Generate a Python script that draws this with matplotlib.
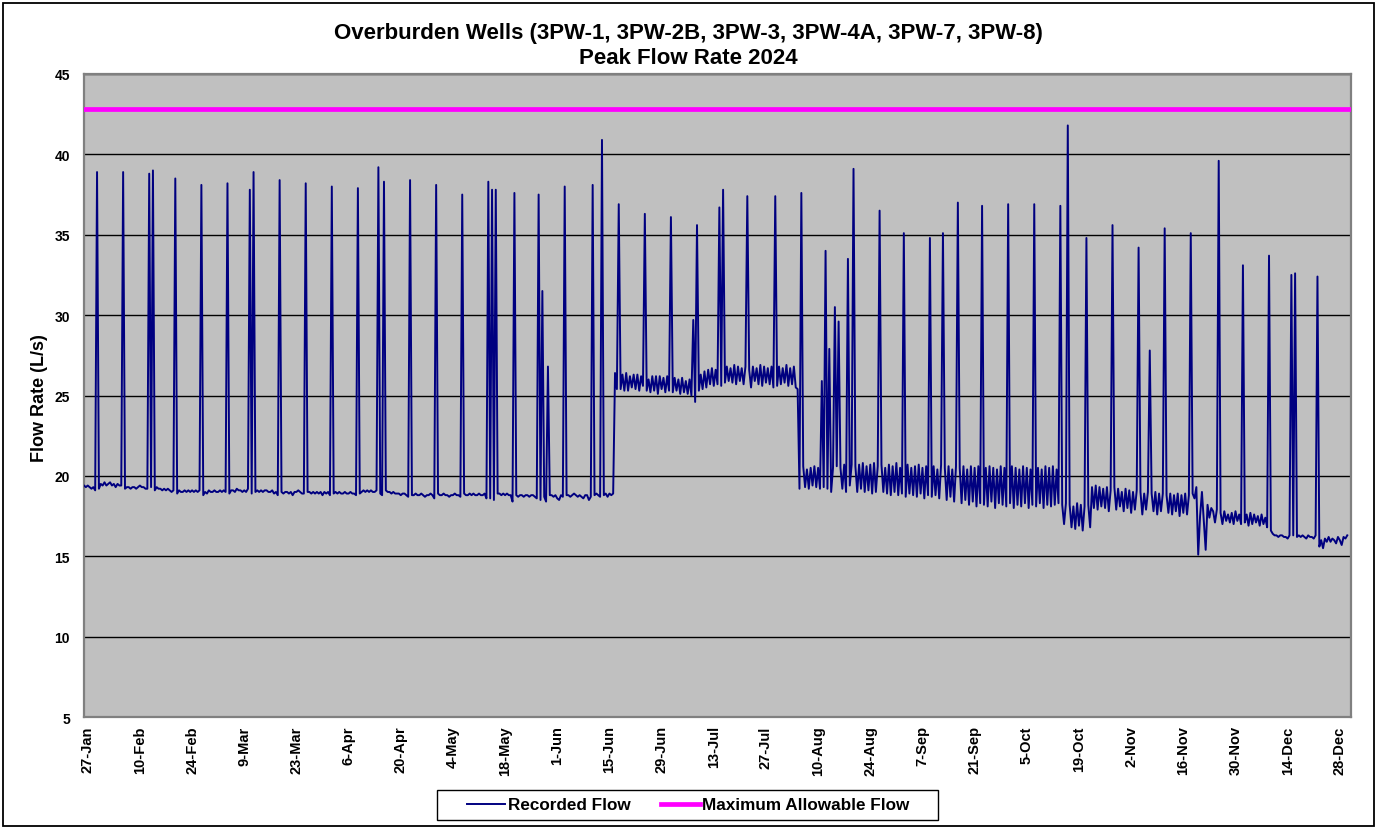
import datetime as dt
import numpy as np
import matplotlib
matplotlib.use("Agg")
import matplotlib.pyplot as plt
from matplotlib.patches import Rectangle

# readings every 12 hours starting 26-Jan-2024 00:00
start = dt.datetime(2024, 1, 26)
step_hours = 12

# baseline recorded flow (L/s), by period
base_jan_jun = [
    19.4, 19.3, 19.4, 19.3, 19.2, 19.3, 19.1, 19.0, 19.2, 19.5, 19.4, 19.6, 19.4, 19.5, 19.6, 19.4, 19.5, 19.3, 19.5, 19.4,
    19.4, 19.1, 19.2, 19.3, 19.3, 19.2, 19.3, 19.3, 19.2, 19.3, 19.4, 19.3, 19.3, 19.2, 19.2, 19.1, 19.3, 19.2, 19.1, 19.3,
    19.2, 19.2, 19.1, 19.2, 19.1, 19.2, 19.1, 19.0, 19.1, 19.0, 18.9, 19.1, 19.0, 19.0, 19.1, 19.0, 19.1, 19.0, 19.1, 19.0,
    19.1, 19.0, 19.1, 19.0, 18.8, 19.0, 18.9, 19.1, 19.0, 19.0, 19.1, 19.0, 19.0, 19.1, 19.0, 19.1, 19.0, 18.9, 18.9, 19.1,
    19.1, 19.0, 19.2, 19.1, 19.1, 19.0, 19.1, 19.0, 19.2, 19.0, 18.9, 18.8, 19.0, 19.1, 19.0, 19.1, 19.0, 19.1, 19.1, 19.0,
    19.0, 19.1, 18.9, 19.0, 18.8, 18.9, 19.0, 18.9, 19.0, 19.0, 18.9, 19.0, 18.8, 19.0, 19.0, 19.1, 19.0, 18.9, 18.9, 18.8,
    19.0, 19.0, 18.9, 19.0, 18.9, 19.0, 18.9, 19.0, 18.8, 19.0, 18.9, 19.0, 18.8, 18.9, 18.9, 19.0, 18.9, 19.0, 18.9, 18.9,
    19.0, 18.9, 18.9, 19.0, 18.9, 18.9, 18.8, 19.0, 18.9, 19.0, 19.1, 19.0, 19.1, 19.0, 19.1, 19.0, 19.0, 19.1, 18.9, 18.9,
    18.8, 19.0, 19.1, 19.0, 19.0, 18.9, 19.0, 18.9, 18.9, 18.9, 18.8, 18.9, 18.9, 18.8, 18.7, 18.9, 18.8, 18.8, 18.9, 18.8,
    18.8, 18.9, 18.8, 18.7, 18.8, 18.8, 18.9, 18.8, 18.6, 18.8, 18.9, 18.8, 18.8, 18.9, 18.8, 18.8, 18.7, 18.8, 18.8, 18.9,
    18.8, 18.8, 18.7, 18.9, 18.9, 18.8, 18.8, 18.9, 18.8, 18.9, 18.8, 18.8, 18.9, 18.8, 18.8, 18.9, 18.6, 18.7, 18.6, 18.9,
    18.5, 18.8, 18.9, 18.9, 18.8, 18.9, 18.8, 18.9, 18.8, 18.8, 18.4, 18.7, 18.8, 18.7, 18.8, 18.8, 18.7, 18.8, 18.8, 18.7,
    18.8, 18.8, 18.7, 18.6, 18.9, 18.5, 18.8, 18.7, 18.4, 18.9, 18.8, 18.8, 18.7, 18.8, 18.6, 18.5, 18.8, 18.7, 18.6, 18.8,
    18.8, 18.7, 18.8, 18.9, 18.8, 18.7, 18.8, 18.7, 18.6, 18.8, 18.8, 18.5, 18.7, 18.9, 18.8, 18.9, 18.8, 18.7, 18.6, 18.8,
    18.9, 18.7, 18.9, 18.8, 18.9,
]
base_jun_aug = [
    26.4, 25.4, 26.3, 25.4, 26.3, 25.3, 26.4, 25.3, 26.2, 25.5, 26.3, 25.4, 26.3, 25.3, 26.2, 25.6, 26.1, 25.3, 26.0, 25.2,
    26.2, 25.3, 26.2, 25.1, 26.2, 25.4, 26.1, 25.2, 26.2, 25.3, 26.0, 25.2, 26.1, 25.3, 26.0, 25.1, 26.1, 25.2, 25.9, 25.1,
    26.0, 25.0, 24.9, 24.6, 24.7, 25.3, 26.3, 25.4, 26.5, 25.5, 26.6, 25.7, 26.7, 25.6, 26.6, 25.7, 26.8, 25.6, 26.7, 25.8,
    26.8, 25.9, 26.7, 25.8, 26.9, 25.7, 26.8, 25.9, 26.7, 25.7, 26.8, 25.8, 26.6, 25.5, 26.8, 25.9, 26.7, 25.7, 26.9, 25.6,
    26.8, 25.8, 26.7, 25.7, 26.8, 25.5, 26.7, 25.6, 26.8, 25.7, 26.7, 25.8, 26.9, 25.6, 26.7, 25.7, 26.8, 25.5, 25.4,
]
base_aug_oct = [
    19.2, 19.4, 20.6, 19.3, 20.4, 19.2, 20.5, 19.4, 20.6, 19.3, 20.5, 19.2, 20.4, 19.3, 20.5, 19.2, 20.6, 19.0, 20.5, 19.3,
    20.6, 19.1, 20.5, 19.2, 20.7, 19.0, 20.6, 19.4, 20.7, 19.1, 20.6, 19.0, 20.7, 19.2, 20.8, 19.0, 20.6, 19.1, 20.7, 18.9,
    20.8, 19.0, 20.6, 18.8, 20.7, 19.0, 20.5, 18.9, 20.7, 18.8, 20.6, 19.0, 20.8, 18.8, 20.5, 18.9, 20.6, 18.7, 20.7, 18.9,
    20.5, 18.8, 20.6, 18.7, 20.7, 18.9, 20.5, 18.6, 20.6, 18.8, 20.5, 18.7, 20.6, 18.8, 20.4, 18.6, 20.7, 18.7, 20.5, 18.5,
    20.6, 18.7, 20.4, 18.4, 20.6, 18.6, 20.5, 18.3, 20.6, 18.5, 20.4, 18.2, 20.6, 18.4, 20.5, 18.1, 20.6, 18.3, 20.4, 18.2,
    20.5, 18.1, 20.6, 18.4, 20.5, 18.0, 20.4, 18.3, 20.6, 18.2, 20.5, 18.1, 20.4, 18.3, 20.6, 18.0, 20.5, 18.2, 20.4, 18.1,
    20.6, 18.3, 20.5, 18.0, 20.4, 18.2, 20.6, 18.1, 20.5, 18.3, 20.4, 18.0, 20.6, 18.2, 20.5, 18.1, 20.6, 18.2, 20.4, 18.3,
    20.5, 18.2,
]
base_oct = [17.0, 18.3, 16.9, 18.2, 16.8, 18.1, 16.7, 18.3, 16.9, 18.2, 16.6, 18.1, 16.5, 18.2, 16.8]
base_oct_nov = [
    19.3, 18.0, 19.4, 17.9, 19.3, 18.1, 19.2, 18.0, 19.3, 17.8, 19.1, 18.0, 19.3, 17.9, 19.2, 18.1, 19.0, 17.8, 19.2, 18.0,
    19.1, 17.7, 19.0, 17.9, 19.1, 17.8, 19.0, 17.6, 18.9, 17.9, 19.0, 17.7, 18.9, 17.8, 19.0, 17.6, 18.9, 17.8, 18.9, 17.5,
    18.8, 17.7, 18.9, 17.6, 18.8, 17.8, 18.9, 17.5, 18.8, 17.7, 18.9, 17.6, 18.8, 17.8, 18.9,
]
base_late_nov = [18.6, 19.3, 15.1, 17.5, 19.0, 17.2, 15.4, 18.2, 17.4, 18.0]
base_dec = [
    17.8, 17.1, 17.9, 17.2, 17.7, 17.0, 17.8, 17.2, 17.6, 17.1, 17.7, 17.0, 17.8, 17.2, 17.6, 17.0, 17.7, 17.1, 17.6, 16.9,
    17.7, 17.0, 17.6, 17.1, 17.5, 16.9, 17.6, 17.0, 17.4, 16.8, 16.9,
]
base_mid_dec = [16.6, 16.4, 16.3, 16.3, 16.2, 16.3, 16.3, 16.2, 16.2, 16.1, 16.3, 16.2, 16.3, 16.3, 16.2, 16.3, 16.2,
                16.3, 16.2, 16.1, 16.3, 16.2, 16.2, 16.1, 16.3]
base_end_dec = [16.2, 15.6, 16.0, 15.5, 16.1, 15.9, 16.2, 15.9, 16.1, 16.0, 15.8, 16.2, 16.0, 15.7, 16.2, 16.1, 16.3]

# peak readings (reading number, L/s)
peak_idx = [7, 21, 35, 37, 49, 63, 77, 89, 91, 105, 119, 133, 147, 158, 161, 175, 189, 203, 217, 219, 221, 231,
            244, 246, 249, 258, 273, 278, 287, 301, 315, 327, 329, 341, 343, 356, 371, 385, 396, 398, 400, 403,
            405, 410, 413, 427, 440, 454, 461, 469, 482, 496, 510, 524, 528, 538, 552, 566, 572, 580, 594, 609,
            622, 636, 648, 650, 662]
peak_val = [38.9, 38.9, 38.8, 39.0, 38.5, 38.1, 38.2, 37.8, 38.9, 38.4, 38.2, 38.0, 37.9, 39.2, 38.3, 38.4, 38.1,
            37.5, 38.3, 37.8, 37.8, 37.6, 37.5, 31.5, 26.8, 38.0, 38.1, 40.9, 36.9, 36.3, 36.1, 29.7, 35.6, 36.7,
            37.8, 37.4, 37.4, 37.6, 25.9, 34.0, 27.9, 30.5, 29.6, 33.5, 39.1, 36.5, 35.1, 34.8, 35.1, 37.0, 36.8,
            36.9, 36.9, 36.8, 41.8, 34.8, 35.6, 34.2, 27.8, 35.4, 35.1, 39.6, 33.1, 33.7, 32.5, 32.6, 32.4]

max_allowable = 42.8

flow = np.array(base_jan_jun + base_jun_aug + base_aug_oct + base_oct + base_oct_nov
                + base_late_nov + base_dec + base_mid_dec + base_end_dec)
flow[peak_idx] = peak_val
times = [start + dt.timedelta(hours=step_hours * i) for i in range(len(flow))]

font = "Liberation Sans"
W, H = 1377, 829

fig = plt.figure(figsize=(W / 100, H / 100), dpi=100)
ax = fig.add_axes([84 / W, 1 - 718 / H, (1351 - 84) / W, (718 - 75) / H])
ax.set_facecolor("#C0C0C0")

ax.plot(times, flow, color="#000080", linewidth=1.4, label="Recorded Flow", zorder=3)
ax.axhline(max_allowable, color="#FF00FF", linewidth=3.4, label="Maximum Allowable Flow", zorder=4)

ax.set_ylim(5, 45)
ax.set_yticks(range(5, 46, 5))
ax.set_xlim(dt.datetime(2024, 1, 26), dt.datetime(2024, 12, 31))
ticks = [dt.datetime(2024, 1, 27) + dt.timedelta(days=14 * i) for i in range(25)]
ax.set_xticks(ticks)
ax.set_xticklabels([f"{d.day}-{d.strftime('%b')}" for d in ticks], rotation=90,
                   fontsize=10.5, fontweight="bold", family=font)
for lab in ax.get_yticklabels():
    lab.set_fontsize(10)
    lab.set_fontweight("bold")
    lab.set_family(font)
ax.tick_params(axis="both", length=0)
ax.tick_params(axis="y", pad=10)
ax.tick_params(axis="x", pad=6)
ax.grid(axis="y", color="black", linewidth=1.0)
ax.set_axisbelow(True)
for s in ax.spines.values():
    s.set_color("#808080")
    s.set_linewidth(1.6)

fig.text(0.5, 1 - 33 / H, "Overburden Wells (3PW-1, 3PW-2B, 3PW-3, 3PW-4A, 3PW-7, 3PW-8)",
         ha="center", va="center", fontsize=16, fontweight="bold", family=font)
fig.text(0.5, 1 - 59 / H, "Peak Flow Rate 2024",
         ha="center", va="center", fontsize=16, fontweight="bold", family=font)
fig.text(40 / W, 1 - 398 / H, "Flow Rate (L/s)", rotation=90, ha="center", va="center",
         fontsize=13, fontweight="bold", family=font)

# legend without its own frame, boxed separately
fig.legend(loc="center", bbox_to_anchor=(688 / W, 1 - 806 / H), ncol=2, frameon=False,
           prop={"family": font, "weight": "bold", "size": 12.3}, borderpad=0,
           handlelength=2.25, handletextpad=0.15, columnspacing=1.8)
fig.patches.append(Rectangle((437 / W, 1 - 821 / H), 501 / W, 30 / H, transform=fig.transFigure,
                             facecolor="white", edgecolor="black", linewidth=1.0, zorder=0))

fig.patches.append(Rectangle((3 / W, 2 / H), 1371 / W, 823 / H, transform=fig.transFigure,
                             fill=False, edgecolor="black", linewidth=1.3))

fig.savefig("out.png", dpi=100)
